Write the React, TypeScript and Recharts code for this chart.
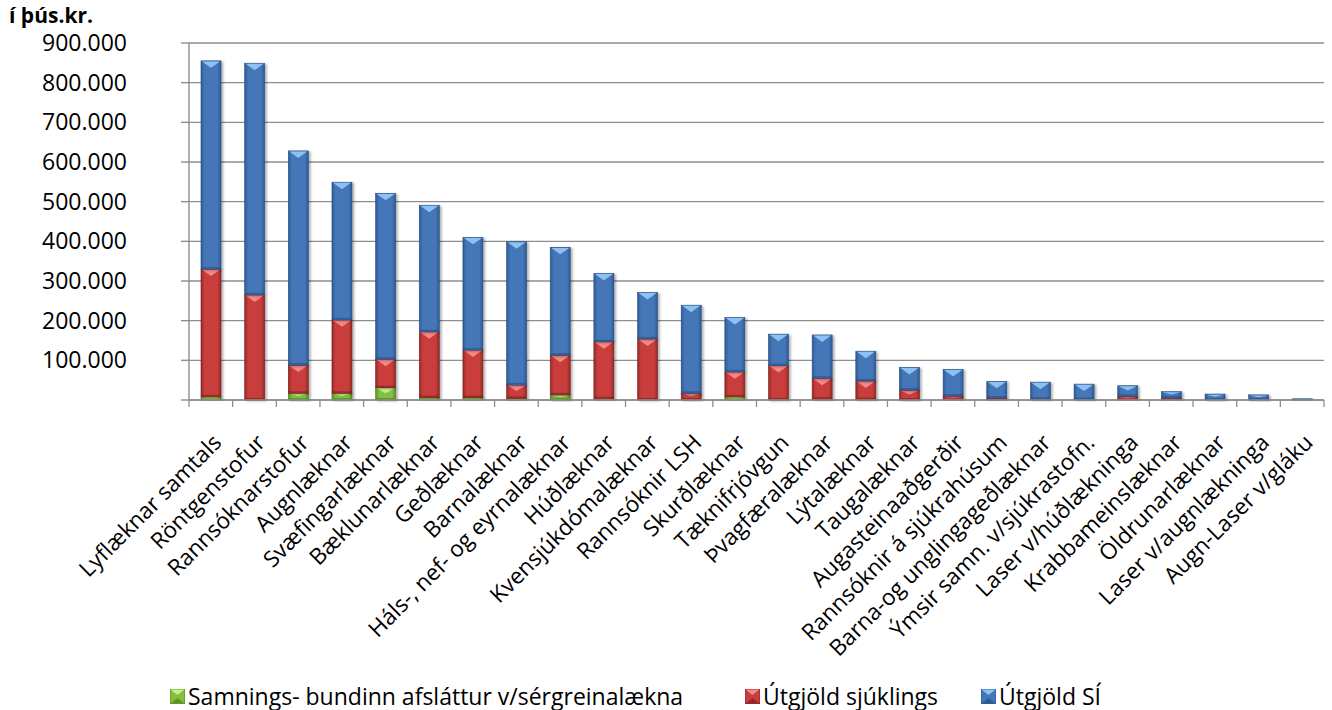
import React from "react";
import { Bar, BarChart, CartesianGrid, Legend, XAxis, YAxis } from "recharts";

const categories = [
  "Lyflæknar samtals",
  "Röntgenstofur",
  "Rannsóknarstofur",
  "Augnlæknar",
  "Svæfingarlæknar",
  "Bæklunarlæknar",
  "Geðlæknar",
  "Barnalæknar",
  "Háls-, nef- og eyrnalæknar",
  "Húðlæknar",
  "Kvensjúkdómalæknar",
  "Rannsóknir LSH",
  "Skurðlæknar",
  "Tæknifrjóvgun",
  "Þvagfæralæknar",
  "Lýtalæknar",
  "Taugalæknar",
  "Augasteinaaðgerðir",
  "Rannsóknir á sjúkrahúsum",
  "Barna-og unglingageðlæknar",
  "Ýmsir samn. v/sjúkrastofn.",
  "Laser v/húðlækninga",
  "Krabbameinslæknar",
  "Öldrunarlæknar",
  "Laser v/augnlækninga",
  "Augn-Laser v/gláku",
];

// í þús.kr.
const samnings = [8000, 0, 17000, 17000, 31000, 6000, 6000, 4000, 13000, 3000, 0, 0, 8000, 0, 2000, 1000, 0, 0, 0, 0, 0, 0, 0, 0, 0, 0];
const sjuklings = [322000, 265000, 71000, 185000, 72000, 166000, 120000, 34000, 100000, 144000, 154000, 17000, 63000, 87000, 53000, 47000, 25000, 10000, 5000, 2000, 1000, 9000, 5000, 0, 0, 0];
const si = [525000, 584000, 540000, 347000, 418000, 319000, 284000, 361000, 272000, 172000, 117000, 222000, 137000, 79000, 109000, 75000, 57000, 67000, 42000, 43000, 39000, 27000, 16000, 15000, 13000, 3000];

const yTicks = [0, 100000, 200000, 300000, 400000, 500000, 600000, 700000, 800000, 900000];

const seriesNames: Record<string, string> = {
  samnings: "Samnings- bundinn afsláttur v/sérgreinalækna",
  sjuklings: "Útgjöld sjúklings",
  si: "Útgjöld SÍ",
};

const data = categories.map((name, i) => ({
  name,
  samnings: samnings[i],
  sjuklings: sjuklings[i],
  si: si[i],
}));

const font = "'Open Sans', sans-serif";
const gridGray = "#8e8e8e";

const tones: Record<string, { mid: string; edge: string; light: string; dark: string }> = {
  samnings: { mid: "#82c03e", edge: "#5b9426", light: "#c4f08c", dark: "#4a7a1c" },
  sjuklings: { mid: "#c93e3c", edge: "#952928", light: "#f48886", dark: "#7a1f1e" },
  si: { mid: "#4477b8", edge: "#2e5b96", light: "#8cc1f4", dark: "#264c7e" },
};

const fmt = (v: number) => (v === 0 ? "" : String(v).replace(/\B(?=(\d{3})+(?!\d))/g, "."));

function bevel(key: string) {
  return (p: any) => {
    const { x, y, width, height } = p;
    if (!height || height <= 0) return <g />;
    const t = tones[key];
    const tri = Math.min(7, height * 0.45);
    return (
      <g filter="url(#barShadow)">
        <rect x={x} y={y} width={width} height={height} fill={`url(#g-${key})`} stroke={t.dark} strokeWidth={0.6} />
        {height > 2.5 && (
          <polygon
            points={`${x + 1},${y + 0.6} ${x + width - 1},${y + 0.6} ${x + width / 2},${y + tri}`}
            fill={t.light}
          />
        )}
        {height > 5 && <rect x={x + 0.5} y={y + height - 2} width={width - 1} height={1.6} fill={t.dark} opacity={0.6} />}
      </g>
    );
  };
}

function CategoryTick(props: any) {
  const { x, y, payload, index } = props;
  const half = payload.offset ?? 0;
  const last = index === categories.length - 1;
  return (
    <g>
      <line x1={x - half} x2={x - half} y1={y} y2={y + 7} stroke={gridGray} strokeWidth={1.3} />
      {last && <line x1={x + half} x2={x + half} y1={y} y2={y + 7} stroke={gridGray} strokeWidth={1.3} />}
      <text
        transform={`translate(${x + 12},${y + 44}) rotate(-45)`}
        textAnchor="end"
        fontFamily={font}
        fontSize={22.5}
        fill="#000"
      >
        {payload.value}
      </text>
    </g>
  );
}

function LegendSquare({ k }: { k: string }) {
  const t = tones[k];
  return (
    <svg width={15} height={15} style={{ marginRight: 3, flex: "none" }}>
      <rect x={0} y={0} width={15} height={15} fill={t.mid} stroke={t.dark} strokeWidth={0.8} />
      <polygon points="0.5,0.5 14.5,0.5 7.5,6" fill={t.light} />
      <polygon points="0.5,14.5 14.5,14.5 7.5,9" fill={t.edge} />
    </svg>
  );
}

const legendOrder = ["samnings", "sjuklings", "si"];
const legendWidths = [575, 236, 160];

function LegendContent() {
  return (
    <div style={{ display: "flex", fontFamily: font, fontSize: 23, lineHeight: "30px", color: "#000" }}>
      {legendOrder.map((k, i) => (
        <div key={k} style={{ display: "flex", alignItems: "center", width: legendWidths[i], whiteSpace: "nowrap" }}>
          <LegendSquare k={k} />
          <span>{seriesNames[k]}</span>
        </div>
      ))}
    </div>
  );
}

export default function App() {
  return (
    <div style={{ position: "absolute", left: 0, top: 0, width: 1332, height: 710, background: "#fff" }}>
      <div
        style={{
          position: "absolute",
          left: 9,
          top: 1,
          fontFamily: font,
          fontWeight: 700,
          fontSize: 21,
          color: "#000",
          zIndex: 2,
        }}
      >
        í þús.kr.
      </div>
      <BarChart
        width={1332}
        height={710}
        data={data}
        margin={{ top: 43, right: 8, bottom: 60, left: 0 }}
        barSize={20}
      >
        <defs>
          {Object.keys(tones).map((k) => (
            <linearGradient key={k} id={`g-${k}`} x1="0" y1="0" x2="1" y2="0">
              <stop offset="0" stopColor={tones[k].edge} />
              <stop offset="0.18" stopColor={tones[k].mid} />
              <stop offset="0.82" stopColor={tones[k].mid} />
              <stop offset="1" stopColor={tones[k].edge} />
            </linearGradient>
          ))}
          <filter id="barShadow" x="-30%" y="-10%" width="160%" height="130%">
            <feDropShadow dx="2" dy="1" stdDeviation="1.3" floodColor="#000" floodOpacity="0.3" />
          </filter>
        </defs>
        <CartesianGrid vertical={false} stroke={gridGray} strokeWidth={1.4} />
        <XAxis
          dataKey="name"
          interval={0}
          height={250}
          tickLine={false}
          tickSize={0}
          tickMargin={0}
          axisLine={{ stroke: gridGray, strokeWidth: 1.4 }}
          tick={<CategoryTick />}
        />
        <YAxis
          width={189}
          domain={[0, 900000]}
          ticks={yTicks}
          tickFormatter={fmt}
          tickSize={8}
          tickMargin={54}
          tickLine={{ stroke: gridGray, strokeWidth: 1.4 }}
          axisLine={{ stroke: gridGray, strokeWidth: 1.4 }}
          tick={{ fontFamily: font, fontSize: 23, fill: "#000" }}
        />
        <Legend
          layout="horizontal"
          verticalAlign="middle"
          align="center"
          wrapperStyle={{ top: 681, left: 170, width: 1000 }}
          content={<LegendContent />}
        />
        <Bar dataKey="samnings" name={seriesNames.samnings} stackId="a" shape={bevel("samnings")} isAnimationActive={false} />
        <Bar dataKey="sjuklings" name={seriesNames.sjuklings} stackId="a" shape={bevel("sjuklings")} isAnimationActive={false} />
        <Bar dataKey="si" name={seriesNames.si} stackId="a" shape={bevel("si")} isAnimationActive={false} />
      </BarChart>
    </div>
  );
}
